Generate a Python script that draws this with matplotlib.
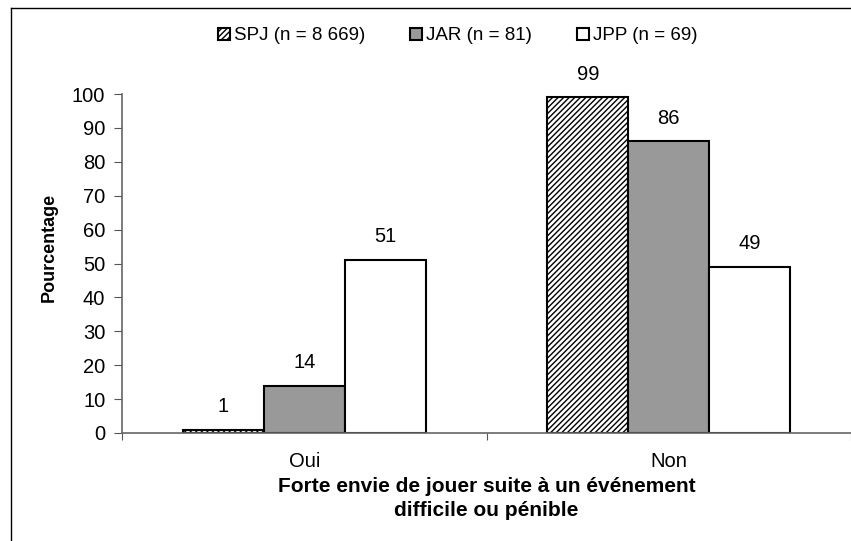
import numpy as np
import matplotlib.pyplot as plt
from matplotlib.lines import Line2D

plt.rcParams['font.family'] = ['Liberation Sans', 'DejaVu Sans']
plt.rcParams['hatch.linewidth'] = 1.0

categories = ["Oui", "Non"]
series = ["SPJ (n = 8 669)", "JAR (n = 81)", "JPP (n = 69)"]
spj = [1, 99]
jar = [14, 86]
jpp = [51, 49]

fig = plt.figure(figsize=(8.51, 5.41), dpi=100)
ax = fig.add_axes([122 / 851, 1 - 433 / 541, 729 / 851, 339 / 541])

x = np.arange(len(categories))
w = 0.222
styles = [dict(color="white", hatch="//////"), dict(color="#999999"), dict(color="white")]
for i, (vals, st) in enumerate(zip([spj, jar, jpp], styles)):
    bars = ax.bar(x + (i - 1) * w, vals, w, edgecolor="black", linewidth=1.5,
                  label=series[i], **st)
    for b, v in zip(bars, vals):
        ax.annotate(str(v), (b.get_x() + b.get_width() / 2, v), xytext=(0, 10),
                    textcoords="offset points", ha="center", va="bottom", fontsize=14.5)

ax.set_xlim(-0.5, 1.5)
ax.set_ylim(0, 100)
ax.set_yticks(range(0, 101, 10))
ax.set_xticks([-0.5, 0.5, 1.5])
ax.set_xticklabels([])
ax.set_xticks(x, minor=True)
ax.set_xticklabels(categories, minor=True)
ax.tick_params(axis="x", which="minor", length=0, labelsize=14.5, pad=14)
ax.tick_params(axis="x", which="major", length=5, direction="out", color="#555555")
ax.tick_params(axis="y", length=6, direction="out", labelsize=14.5, color="#555555", pad=6)
for s in ["top", "right"]:
    ax.spines[s].set_visible(False)
for s in ["left", "bottom"]:
    ax.spines[s].set_color("#666666")
    ax.spines[s].set_linewidth(1.2)

ax.set_ylabel("Pourcentage", fontsize=13, fontweight="bold", labelpad=10)
ax.yaxis.set_label_coords(-0.088, 0.546)
ax.set_xlabel("Forte envie de jouer suite à un événement\ndifficile ou pénible",
              fontsize=15, fontweight="bold", labelpad=4, linespacing=1.35)

leg = ax.legend(loc="center", bbox_to_anchor=(458 / 851, 1 - 36 / 541),
                bbox_transform=fig.transFigure, ncol=3, frameon=False,
                fontsize=13.5, handlelength=0.6, handleheight=0.6,
                handletextpad=0.25, columnspacing=2.4)

# frame border lines (left and top only visible)
fig.add_artist(Line2D([11 / 851, 11 / 851], [0, 1 - 8 / 541], transform=fig.transFigure,
                      color="black", linewidth=1))
fig.add_artist(Line2D([11 / 851, 1], [1 - 8 / 541, 1 - 8 / 541], transform=fig.transFigure,
                      color="black", linewidth=1))

fig.savefig("out.png", dpi=100)
